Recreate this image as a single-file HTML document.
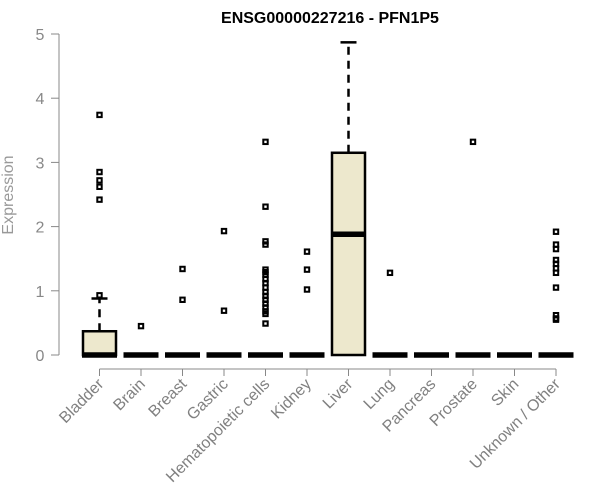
<!DOCTYPE html>
<html><head><meta charset="utf-8"><style>body{margin:0;background:#fff}svg{display:block;font-family:"Liberation Sans",Arial,sans-serif}</style></head>
<body>
<svg id="chart" width="600" height="500" viewBox="0 0 600 500">
<text x="330" y="23" text-anchor="middle" font-size="16" font-weight="bold">ENSG00000227216 - PFN1P5</text>
<text transform="translate(13,195) rotate(-90)" text-anchor="middle" font-size="16" fill="#999">Expression</text>
<g id="axes"></g><g id="plot"></g>
</svg>
<script>
const categories=["Bladder","Brain","Breast","Gastric","Hematopoietic cells","Kidney","Liver","Lung","Pancreas","Prostate","Skin","Unknown / Other"];
const q1=[0,0,0,0,0,0,0,0,0,0,0,0];
const medians=[0,0,0,0,0,0,1.88,0,0,0,0,0];
const q3=[0.37,0,0,0,0,0,3.15,0,0,0,0,0];
const whiskHi=[0.88,0,0,0,0,0,4.87,0,0,0,0,0];
const outliers=[[3.74,2.85,2.72,2.62,2.42,0.93],[0.45],[1.34,0.86],[1.93,0.69],[3.32,2.31,1.77,1.72,1.33,1.29,1.25,1.18,1.12,1.05,0.98,0.92,0.86,0.80,0.74,0.68,0.64,0.49],[1.61,1.33,1.02],[],[1.28],[],[3.32],[],[1.92,1.72,1.65,1.48,1.42,1.35,1.28,1.05,0.62,0.57,0.55]];
const yTicks=[0,1,2,3,4,5];
const NS="http://www.w3.org/2000/svg";
const y=v=>355-v*64.2;
const x=i=>99.5+i*41.5;
function mk(t,a,p){const e=document.createElementNS(NS,t);for(const k in a)e.setAttribute(k,a[k]);p.appendChild(e);return e;}
const ax=document.getElementById('axes'),pl=document.getElementById('plot');
let e=mk('line',{x1:59,x2:59,y1:y(0),y2:y(5),stroke:'#888'},ax);


yTicks.forEach(t=>{
 let l=mk('line',{x1:51,x2:59,y1:y(t),y2:y(t),stroke:'#888'},ax);
 
 
 let tx=mk('text',{x:40,y:y(t)+6,'text-anchor':'middle','font-size':16,fill:'#888'},ax);tx.textContent=t;
 
 
});
e=mk('line',{x1:x(0),x2:x(11),y1:369,y2:369,stroke:'#888'},ax);


categories.forEach((c,i)=>{
 let l=mk('line',{x1:x(i),x2:x(i),y1:369,y2:376,stroke:'#888'},ax);
 
 
 let tx=mk('text',{transform:`translate(${x(i)+5},385) rotate(-45)`,'text-anchor':'end','font-size':16,fill:'#808080'},ax);tx.textContent=c;
 
 
 const g=mk('g',{},pl);
 
 
 const cx=x(i),hw=16.5;
 if(whiskHi[i]>q3[i]){
  mk('line',{x1:cx,x2:cx,y1:y(q3[i]),y2:y(whiskHi[i]),stroke:'#000','stroke-width':2.5,'stroke-dasharray':'8,6'},g);
  mk('line',{x1:cx-8,x2:cx+8,y1:y(whiskHi[i]),y2:y(whiskHi[i]),stroke:'#000','stroke-width':2.5},g);
 }
 if(q3[i]>q1[i]) mk('rect',{x:cx-hw,y:y(q3[i]),width:2*hw,height:y(q1[i])-y(q3[i]),fill:'#EDE8CD',stroke:'#000','stroke-width':2.5},g);
 mk('line',{x1:cx-hw-1,x2:cx+hw+1,y1:y(medians[i]),y2:y(medians[i]),stroke:'#000','stroke-width':5.5},g);
 outliers[i].forEach(v=>{
  let r=mk('rect',{x:cx-2.2,y:y(v)-2.2,width:4.4,height:4.4,fill:'none',stroke:'#000','stroke-width':2},g);
  
  
 });
});
</script>
</body></html>
